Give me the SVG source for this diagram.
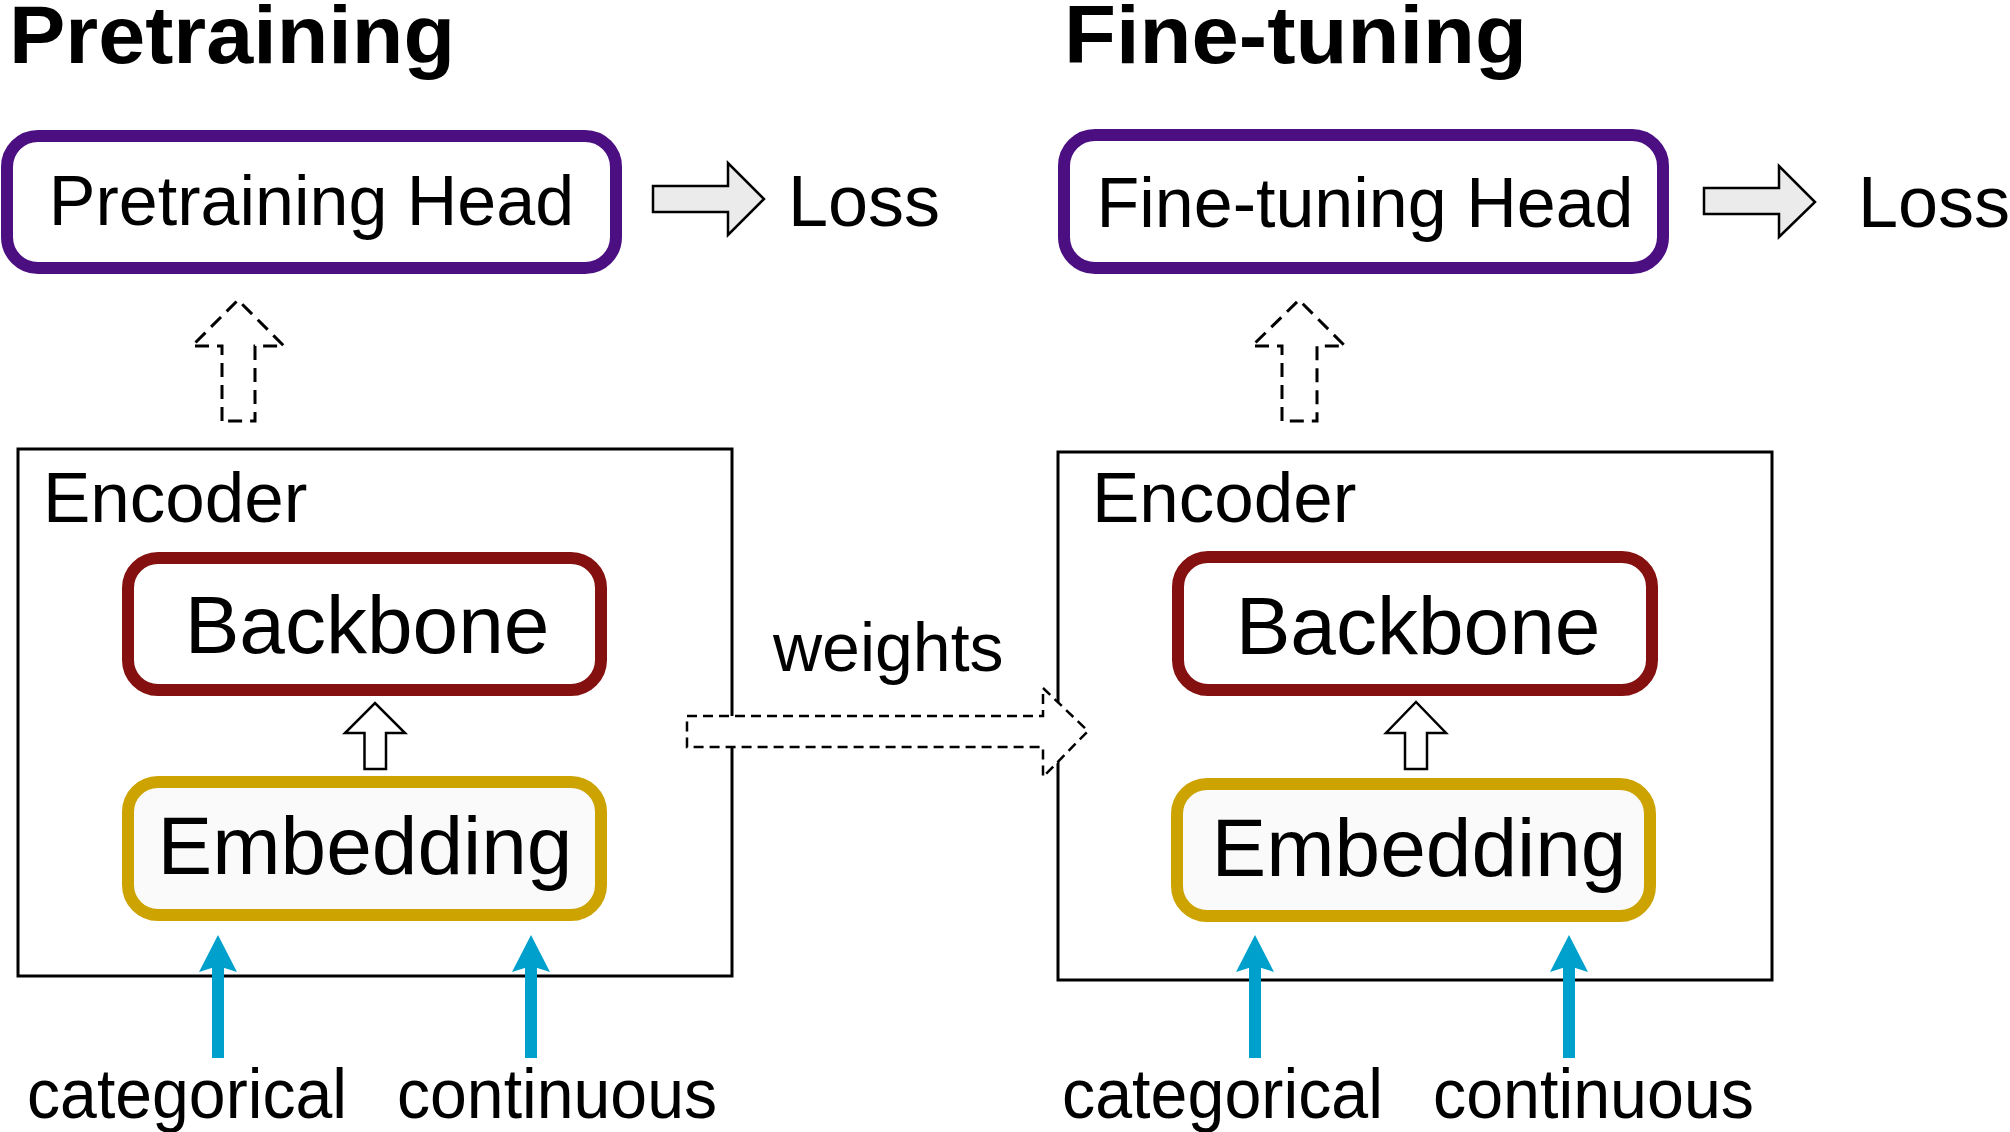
<svg xmlns="http://www.w3.org/2000/svg" width="2010" height="1132" viewBox="0 0 2010 1132">
<style>
  text { font-family: "Liberation Sans", Arial, Helvetica, sans-serif; fill: #000; }
  .title { font-weight: bold; font-size: 82px; }
  .head-t { font-size: 70px; text-anchor: middle; }
  .big { font-size: 82px; text-anchor: middle; }
  .enc-t { font-size: 71px; }
  .loss { font-size: 72px; }
  .in { font-size: 71px; }
  .head { fill: #ffffff; stroke: #4B0F82; stroke-width: 12; }
  .bb { fill: #ffffff; stroke: #841010; stroke-width: 12; }
  .emb { fill: #FAFAFA; stroke: #CCA300; stroke-width: 12; }
  .enc { fill: none; stroke: #000; stroke-width: 3; }
  .grey { fill: #EBEBEB; stroke: #000; stroke-width: 2.5; stroke-linejoin: miter; }
  .white { fill: #ffffff; stroke: #000; stroke-width: 2.5; }
  .dash-up { fill: none; stroke: #000; stroke-width: 3; stroke-dasharray: 14 8; }
  .dash-w { fill: #ffffff; stroke: #000; stroke-width: 2.5; stroke-dasharray: 10 6; }
  .blue { fill: #00A0CC; }
</style>

<g id="titles">
  <text class="title" x="9" y="63" textLength="446" lengthAdjust="spacingAndGlyphs">Pretraining</text>
  <text class="title" x="1064" y="63" textLength="463" lengthAdjust="spacingAndGlyphs">Fine-tuning</text>
</g>

<g id="encoder-left">
  <rect class="enc" x="18" y="449" width="714" height="527"/>
  <text class="enc-t" x="43" y="522">Encoder</text>
</g>
<g id="encoder-right">
  <rect class="enc" x="1058" y="452" width="714" height="528"/>
  <text class="enc-t" x="1092" y="522">Encoder</text>
</g>

<g id="pretraining-head">
  <rect class="head" x="7" y="136" width="609" height="132" rx="31"/>
  <text class="head-t" x="311.5" y="225">Pretraining Head</text>
</g>
<g id="finetuning-head">
  <rect class="head" x="1064" y="135" width="599" height="133" rx="31"/>
  <text class="head-t" x="1365" y="227">Fine-tuning Head</text>
</g>

<g id="loss-left"><text class="loss" x="788" y="226">Loss</text></g>
<g id="loss-right"><text class="loss" x="1858" y="227">Loss</text></g>

<g id="backbone-left">
  <rect class="bb" x="128" y="558" width="473" height="132" rx="30"/>
  <text class="big" x="367" y="653">Backbone</text>
</g>
<g id="backbone-right">
  <rect class="bb" x="1178" y="557" width="474" height="133" rx="30"/>
  <text class="big" x="1418" y="654">Backbone</text>
</g>

<g id="embedding-left">
  <rect class="emb" x="128" y="782" width="473" height="133" rx="30"/>
  <text class="big" x="365" y="874">Embedding</text>
</g>
<g id="embedding-right">
  <rect class="emb" x="1177" y="784" width="473" height="132" rx="30"/>
  <text class="big" x="1419" y="876">Embedding</text>
</g>

<g id="inputs-left">
  <text class="in" x="27" y="1118" textLength="320" lengthAdjust="spacingAndGlyphs">categorical</text>
  <text class="in" x="397" y="1118" textLength="320" lengthAdjust="spacingAndGlyphs">continuous</text>
</g>
<g id="inputs-right">
  <text class="in" x="1062" y="1118" textLength="321" lengthAdjust="spacingAndGlyphs">categorical</text>
  <text class="in" x="1433" y="1118" textLength="321" lengthAdjust="spacingAndGlyphs">continuous</text>
</g>

<g id="weights-label"><text style="font-size:68px" x="773" y="671">weights</text></g>

<g id="connectors">
  <!-- head to loss -->
  <polygon class="grey" points="653,186 728,186 728,163 764,199 728,235 728,212 653,212"/>
  <polygon class="grey" points="1704,188 1779,188 1779,166 1815,202 1779,237 1779,214 1704,214"/>
  <!-- encoder to head (dashed) -->
  <polygon class="dash-up" points="222,421 222,346 192,346 238,300 284,346 255,346 255,421"/>
  <polygon class="dash-up" points="1282,421 1282,346 1252,346 1299,300 1345,346 1317,346 1317,421"/>
  <!-- embedding to backbone -->
  <polygon class="white" points="364.5,769 364.5,733 345,733 375,703 405,733 386,733 386,769"/>
  <polygon class="white" points="1405,769 1405,733 1386,733 1416,702 1446,733 1427,733 1427,769"/>
  <!-- weights transfer -->
  <polygon class="dash-w" points="687,716 1043,716 1043,688 1088,731 1043,777 1043,747 687,747"/>
  <!-- inputs -->
  <g class="blue">
    <rect x="212" y="962" width="12" height="96"/>
    <polygon points="218,935 237,972 218,966 199,972"/>
    <rect x="525" y="962" width="12" height="96"/>
    <polygon points="531,935 550,972 531,966 512,972"/>
    <rect x="1249" y="962" width="12" height="96"/>
    <polygon points="1255,935 1274,972 1255,966 1236,972"/>
    <rect x="1563" y="962" width="12" height="96"/>
    <polygon points="1569,935 1588,972 1569,966 1550,972"/>
  </g>
</g>
</svg>
